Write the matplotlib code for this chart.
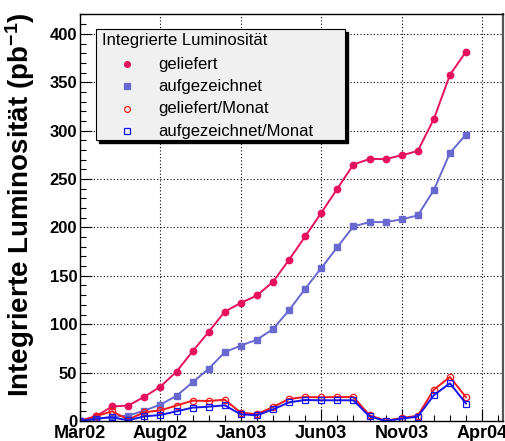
import numpy as np
import matplotlib
matplotlib.use("Agg")
import matplotlib.pyplot as plt
from matplotlib.lines import Line2D
from matplotlib.patches import Rectangle

plt.rcParams['font.family'] = ['Liberation Sans', 'DejaVu Sans']
plt.rcParams['mathtext.fontset'] = 'custom'
plt.rcParams['mathtext.rm'] = 'Liberation Sans:bold'
plt.rcParams['mathtext.default'] = 'rm'

# months since Mar02
months = np.arange(25)
tick_pos = [0, 5, 10, 15, 20, 25]
tick_labels = ["Mar02", "Aug02", "Jan03", "Jun03", "Nov03", "Apr04"]

geliefert = [0, 5, 15, 16, 25, 35.5, 51, 72, 92, 113, 122, 129.7, 143.8, 166.6,
             190.7, 215, 240, 265, 270.7, 270.7, 274.5, 279, 312, 357.6, 381.7]
aufgezeichnet = [0, 2, 4.5, 5.5, 10.7, 17, 26, 40, 54, 71, 78, 84, 95, 114.5,
                 136.6, 158, 179.7, 201, 205.5, 205.5, 208.3, 212.4, 238.6, 277, 296]
geliefert_monat = [0, 5, 10, 1.5, 9, 11, 16, 21, 20.7, 22, 8.6, 7, 14.5, 22.8,
                   24.8, 24.5, 24.8, 24.8, 5.9, 0.3, 3, 5.5, 32.4, 45.5, 24.5]
aufgezeichnet_monat = [0, 2.4, 3.8, 0.7, 4.8, 6.2, 10, 13.8, 14.8, 16.2, 6.9, 5.9, 12,
                       19.3, 21.7, 21.4, 21.4, 21.4, 4.8, 0, 2.4, 4.5, 26.6, 39, 18]

c_gel = "#e6105e"
c_auf = "#6868d0"
c_gel_m = "#f41818"
c_auf_m = "#1414f0"

W, H = 506, 441
fig = plt.figure(figsize=(W / 100, H / 100), dpi=100)
ax = fig.add_axes([80 / W, 1 - 421 / H, 423 / W, 407 / H])

ms = 4.6
ax.plot(months, geliefert, color=c_gel, lw=1.4, marker="o", ms=ms, mec=c_gel, mfc=c_gel)
ax.plot(months, aufgezeichnet, color=c_auf, lw=1.4, marker="s", ms=ms, mec=c_auf, mfc=c_auf)
ax.plot(months, geliefert_monat, color=c_gel_m, lw=1.4, marker="o", ms=ms,
        mec=c_gel_m, mfc="none", mew=0.9)
ax.plot(months, aufgezeichnet_monat, color=c_auf_m, lw=1.4, marker="s", ms=ms,
        mec=c_auf_m, mfc="none", mew=0.9)

ax.set_xlim(0, 26.3)
ax.set_ylim(0, 420.5)
ax.set_xticks(tick_pos)
ax.set_xticklabels(tick_labels, fontsize=13, fontweight="bold")
ax.set_xticks(np.arange(0, 27), minor=True)
ax.set_yticks(np.arange(0, 401, 50))
ax.set_yticklabels([str(v) for v in range(0, 401, 50)], fontsize=12, fontweight="bold")
ax.set_yticks(np.arange(0, 421, 10), minor=True)
ax.tick_params(which="major", direction="in", length=8.5, width=0.8, pad=2)
ax.tick_params(which="minor", direction="in", length=4.2, width=0.8)
ax.tick_params(axis="x", pad=3)
ax.grid(True, which="major", color="black", ls=(0, (1, 2)), lw=0.8)
for s in ax.spines.values():
    s.set_linewidth(1.0)
ax.spines["right"].set_color("#555555")
ax.spines["right"].set_linewidth(1.6)

fig.text(20 / W, 1 - 12 / H, r"Integrierte Luminosität (pb$^{-1}$)", rotation=90,
         ha="center", va="top", fontsize=20, fontweight="bold")

# legend box with shadow
lx0, ly0, lx1, ly1 = 96, 29, 345, 140
fig.patches.append(Rectangle(((lx0 + 3) / W, 1 - (ly1 + 3) / H), (lx1 - lx0) / W, (ly1 - ly0) / H,
                             transform=fig.transFigure, facecolor="black", edgecolor="black",
                             zorder=5))
fig.patches.append(Rectangle((lx0 / W, 1 - ly1 / H), (lx1 - lx0) / W, (ly1 - ly0) / H,
                             transform=fig.transFigure, facecolor="#f0f0f0", edgecolor="black",
                             lw=0.8, zorder=6))
fig.text(102 / W, 1 - 41 / H, "Integrierte Luminosität", fontsize=12, ha="left",
         va="center", zorder=7)
entries = [("geliefert", "o", c_gel, c_gel), ("aufgezeichnet", "s", c_auf, c_auf),
           ("geliefert/Monat", "o", c_gel_m, "none"), ("aufgezeichnet/Monat", "s", c_auf_m, "none")]
for i, (lab, mk, col, fc) in enumerate(entries):
    yy = 1 - (64 + 22.4 * i) / H
    fig.add_artist(Line2D([127 / W], [yy], transform=fig.transFigure, marker=mk, ms=4.2,
                          mec=col, mfc=fc, mew=0.9, ls="none", zorder=7))
    fig.text(158 / W, yy, lab, fontsize=12, ha="left", va="center", zorder=7)

fig.savefig("out.png", dpi=100)
